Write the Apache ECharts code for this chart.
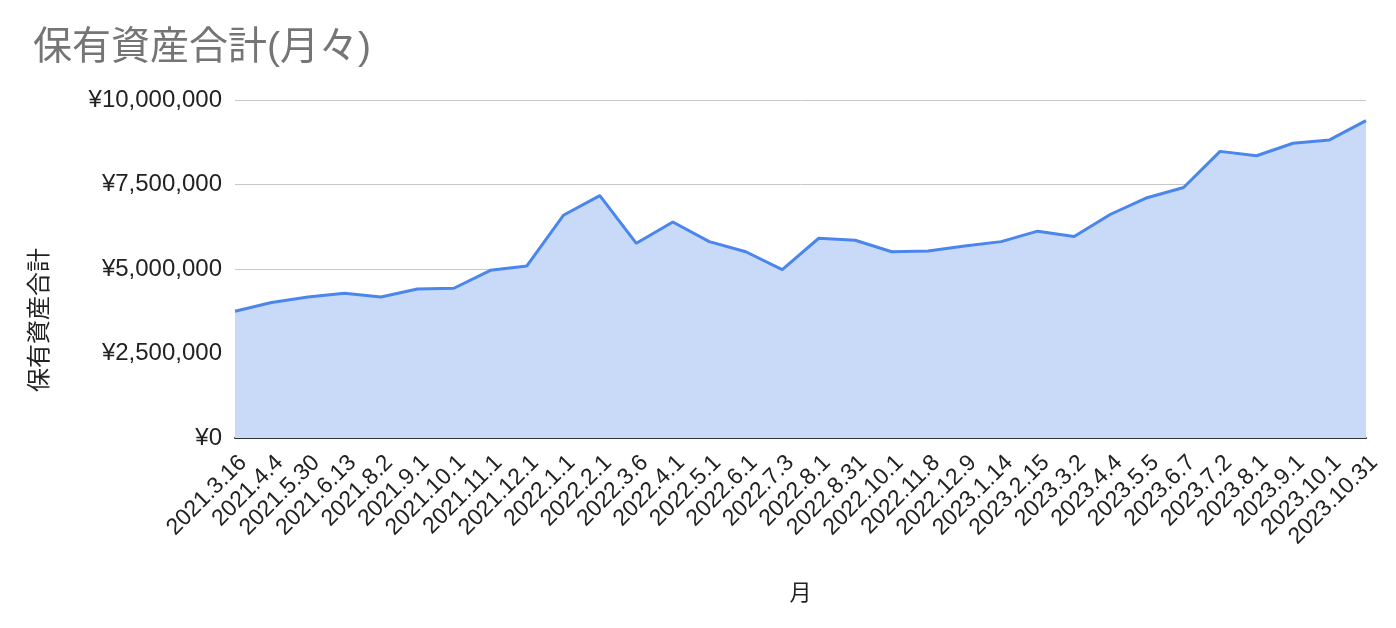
<!DOCTYPE html>
<html>
<head>
<meta charset="utf-8">
<script src="https://cdn.jsdelivr.net/npm/echarts@6/dist/echarts.min.js"></script>
<style>
html,body{margin:0;padding:0;background:#fff;}
#main{width:1396px;height:628px;}
</style>
</head>
<body>
<div id="main"></div>
<script>
const categories = ["2021.3.16","2021.4.4","2021.5.30","2021.6.13","2021.8.2","2021.9.1","2021.10.1","2021.11.1","2021.12.1","2022.1.1","2022.2.1","2022.3.6","2022.4.1","2022.5.1","2022.6.1","2022.7.3","2022.8.1","2022.8.31","2022.10.1","2022.11.8","2022.12.9","2023.1.14","2023.2.15","2023.3.2","2023.4.4","2023.5.5","2023.6.7","2023.7.2","2023.8.1","2023.9.1","2023.10.1","2023.10.31"];
const totalAssets = [3750000,4010000,4170000,4280000,4170000,4410000,4430000,4960000,5090000,6590000,7170000,5760000,6390000,5810000,5510000,4980000,5910000,5850000,5510000,5530000,5680000,5810000,6120000,5960000,6620000,7110000,7410000,8480000,8350000,8720000,8820000,9390000];
const yTicks = {min:0, max:10000000, interval:2500000};
const titleText = "保有資産合計(月々)";
const yName = "保有資産合計";
const xName = "月";

const FONT = '"Liberation Sans", Arial, "Noto Sans CJK JP", sans-serif';
const chart = echarts.init(document.getElementById('main'), null, {renderer:'canvas'});
chart.setOption({
  animation:false,
  backgroundColor:'#ffffff',
  title:{
    text:titleText, left:28, top:24,
    textStyle:{color:'#757575', fontSize:39, fontWeight:'normal', fontFamily:FONT}
  },
  grid:{left:235, right:30, top:100, bottom:190, containLabel:false},
  xAxis:{
    type:'category', data:categories, boundaryGap:false,
    name:xName, nameLocation:'middle', nameGap:145,
    nameTextStyle:{color:'#222', fontSize:22, fontFamily:FONT},
    axisLine:{show:true, lineStyle:{color:'#333', width:2}},
    axisTick:{show:false},
    axisLabel:{interval:0, rotate:45, color:'#222', fontSize:23, fontFamily:FONT, margin:13, verticalAlign:'top'}
  },
  yAxis:{
    type:'value', min:yTicks.min, max:yTicks.max, interval:yTicks.interval,
    axisLine:{show:false}, axisTick:{show:false},
    axisLabel:{color:'#222', fontSize:24, fontFamily:FONT, margin:13,
      formatter:v => '¥' + Math.round(v).toLocaleString('en-US')},
    splitLine:{lineStyle:{color:'#c8c8c8', width:1}}
  },
  graphic:[{
    type:'text', x:40, y:320, rotation:Math.PI/2,
    style:{text:yName, fill:'#222', font:'24px ' + FONT, align:'center', verticalAlign:'middle'}
  }],
  series:[{
    type:'line', data:totalAssets, showSymbol:false, symbol:'none',
    lineStyle:{color:'#4a86ec', width:3},
    areaStyle:{color:'#c9daf8', opacity:1},
    z:1
  }]
});
</script>
</body>
</html>
